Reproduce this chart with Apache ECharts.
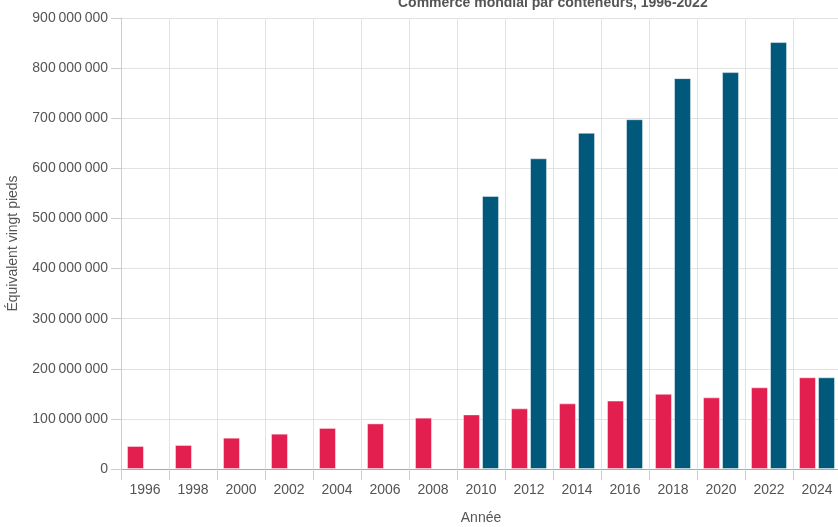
<!DOCTYPE html>
<html>
<head>
<meta charset="utf-8">
<script src="https://cdn.jsdelivr.net/npm/echarts@6/dist/echarts.min.js"></script>
<style>
  html, body { margin: 0; padding: 0; background: #fff; }
  #chart { width: 838px; height: 527px; }
</style>
</head>
<body>
<div id="chart"></div>
<script>
// années (axe x)
var years = ['1996', '1998', '2000', '2002', '2004', '2006', '2008', '2010',
  '2012', '2014', '2016', '2018', '2020', '2022', '2024'];
// série rouge
var redValues = [46e6, 48e6, 62.5e6, 70.5e6, 82e6, 91e6, 102.5e6, 109e6,
  121e6, 131e6, 136.5e6, 150e6, 143e6, 163e6, 183e6];
// série bleue (à partir de 2010)
var blueValues = [null, null, null, null, null, null, null, 545e6,
  620e6, 671e6, 698e6, 780e6, 792e6, 852e6, 183e6];

var fontFamily = "'Liberation Sans', Arial, sans-serif";

function fmt(v) {
  // séparateur de milliers à la française
  return String(v).replace(/\B(?=(\d{3})+(?!\d))/g, '\u202f');
}

var chart = echarts.init(document.getElementById('chart'));
var option = {
  animation: false,
  backgroundColor: '#fff',
  textStyle: { fontFamily: fontFamily },
  title: {
    text: 'Commerce mondial par conteneurs, 1996-2022',
    left: 393,
    top: -9,
    textStyle: { fontSize: 14, fontWeight: 'bold', color: '#555', fontFamily: fontFamily }
  },
  grid: { left: 121, right: -3, top: 18, bottom: 58, containLabel: false, outerBoundsMode: 'none' },
  xAxis: {
    type: 'category',
    data: years,
    name: 'Année',
    nameLocation: 'middle',
    nameGap: 42,
    nameTextStyle: { fontSize: 14, color: '#555' },
    axisLine: { lineStyle: { color: '#aaa' } },
    axisTick: { show: true, length: 11, lineStyle: { color: '#ccc' } },
    axisLabel: { fontSize: 14, color: '#555', margin: 14 },
    splitLine: { show: true, lineStyle: { color: '#e2e2e2' } }
  },
  yAxis: {
    type: 'value',
    min: 0,
    max: 900000000,
    interval: 100000000,
    name: 'Équivalent vingt pieds',
    nameLocation: 'middle',
    nameGap: 101,
    nameTextStyle: { fontSize: 14, color: '#555' },
    axisLine: { show: true, lineStyle: { color: '#ccc' } },
    axisTick: { show: true, length: 10, lineStyle: { color: '#ccc' } },
    axisLabel: { fontSize: 14, color: '#555', margin: 13, formatter: fmt },
    splitLine: { show: true, lineStyle: { color: '#e2e2e2' } }
  },
  series: [
    {
      type: 'bar',
      data: redValues,
      barWidth: 17,
      barGap: '12%',
      itemStyle: { color: '#e31f50', borderColor: 'rgba(255,255,255,0.45)', borderWidth: 1 }
    },
    {
      type: 'bar',
      data: blueValues,
      barWidth: 17,
      itemStyle: { color: '#00587a', borderColor: 'rgba(255,255,255,0.45)', borderWidth: 1 }
    }
  ]
};
chart.setOption(option);
</script>
</body>
</html>
